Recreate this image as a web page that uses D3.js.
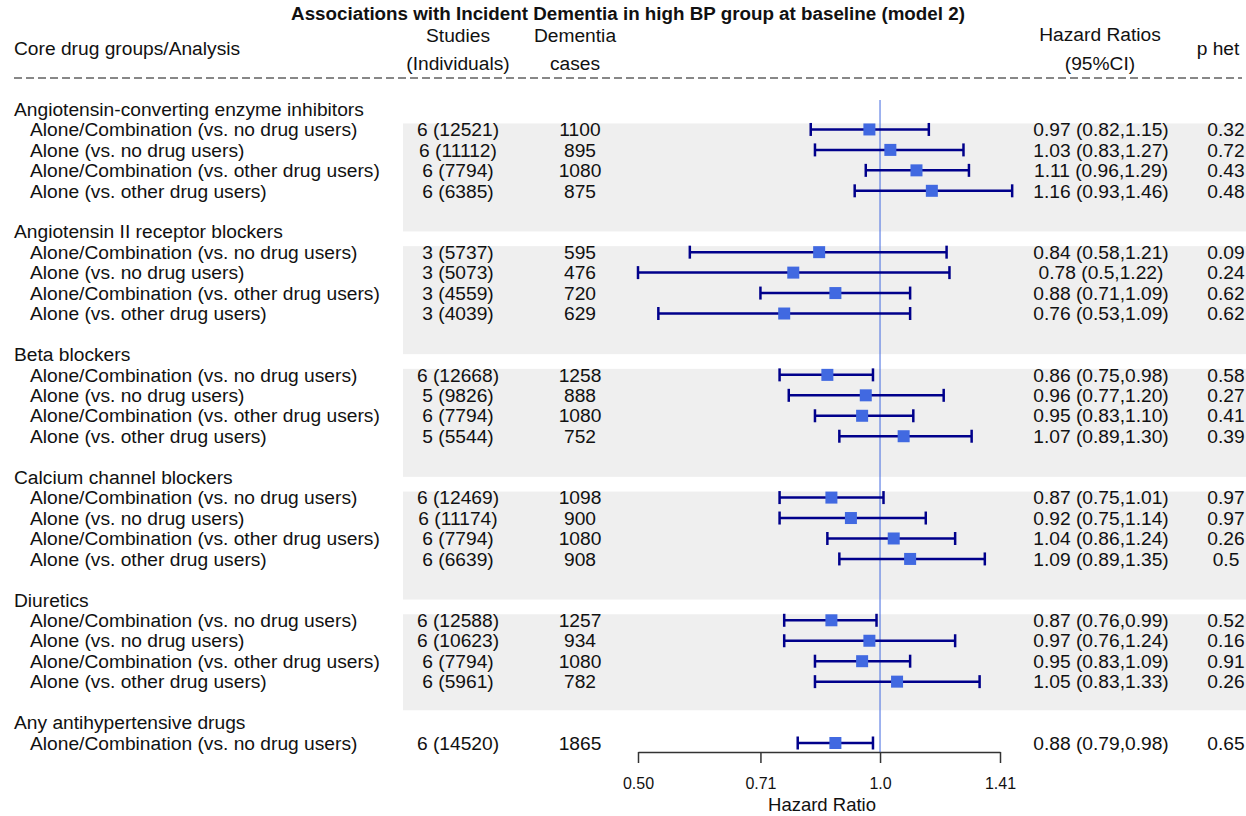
<!DOCTYPE html>
<html>
<head>
<meta charset="utf-8">
<script src="https://cdn.jsdelivr.net/npm/d3@7"></script>
<style>
  body { margin: 0; background: #fff; }
  svg text { font-family: "Liberation Sans", Arial, sans-serif; fill: #111; }
</style>
</head>
<body>
<div id="graph"></div>
<script>
// Drug groups (one header row each)
const groupNames = [
  'Angiotensin-converting enzyme inhibitors',
  'Angiotensin II receptor blockers',
  'Beta blockers',
  'Calcium channel blockers',
  'Diuretics',
  'Any antihypertensive drugs'
]

// Analyses inside each group
const analysisNames = [
  'Alone/Combination (vs. no drug users)',
  'Alone (vs. no drug users)',
  'Alone/Combination (vs. other drug users)',
  'Alone (vs. other drug users)'
]

// One entry per analysis row
const rowGroup = [0,0,0,0, 1,1,1,1, 2,2,2,2, 3,3,3,3, 4,4,4,4, 5]
const rowAnalysis = [0,1,2,3, 0,1,2,3, 0,1,2,3, 0,1,2,3, 0,1,2,3, 0]
const studies = [
  '6 (12521)','6 (11112)','6 (7794)','6 (6385)',
  '3 (5737)','3 (5073)','3 (4559)','3 (4039)',
  '6 (12668)','5 (9826)','6 (7794)','5 (5544)',
  '6 (12469)','6 (11174)','6 (7794)','6 (6639)',
  '6 (12588)','6 (10623)','6 (7794)','6 (5961)',
  '6 (14520)'
]
const cases = [1100,895,1080,875, 595,476,720,629, 1258,888,1080,752, 1098,900,1080,908, 1257,934,1080,782, 1865]
const hr    = [0.97,1.03,1.11,1.16, 0.84,0.78,0.88,0.76, 0.86,0.96,0.95,1.07, 0.87,0.92,1.04,1.09, 0.87,0.97,0.95,1.05, 0.88]
const lower = [0.82,0.83,0.96,0.93, 0.58,0.50,0.71,0.53, 0.75,0.77,0.83,0.89, 0.75,0.75,0.86,0.89, 0.76,0.76,0.83,0.83, 0.79]
const upper = [1.15,1.27,1.29,1.46, 1.21,1.22,1.09,1.09, 0.98,1.20,1.10,1.30, 1.01,1.14,1.24,1.35, 0.99,1.24,1.09,1.33, 0.98]
const hrLabels = [
  '0.97 (0.82,1.15)','1.03 (0.83,1.27)','1.11 (0.96,1.29)','1.16 (0.93,1.46)',
  '0.84 (0.58,1.21)','0.78 (0.5,1.22)','0.88 (0.71,1.09)','0.76 (0.53,1.09)',
  '0.86 (0.75,0.98)','0.96 (0.77,1.20)','0.95 (0.83,1.10)','1.07 (0.89,1.30)',
  '0.87 (0.75,1.01)','0.92 (0.75,1.14)','1.04 (0.86,1.24)','1.09 (0.89,1.35)',
  '0.87 (0.76,0.99)','0.97 (0.76,1.24)','0.95 (0.83,1.09)','1.05 (0.83,1.33)',
  '0.88 (0.79,0.98)'
]
const pHet = ['0.32','0.72','0.43','0.48', '0.09','0.24','0.62','0.62', '0.58','0.27','0.41','0.39', '0.97','0.97','0.26','0.5', '0.52','0.16','0.91','0.26', '0.65']

// Axis ticks
const tickValues = [0.5, 0.71, 1, 1.41]
const tickLabels = ['0.50', '0.71', '1.0', '1.41']

const width = 1246
const height = 816
const fontSize = 19.2

const svg = d3.select('#graph')
  .append('svg')
  .attr('width', width)
  .attr('height', height)

// Each group takes 6 lines: header, 4 analyses, blank
const lineIndex = (i) => rowGroup[i] * 6 + 1 + rowAnalysis[i]
const yScale = d3.scaleLinear().domain([0, 31]).range([109, 743])
const xScale = d3.scaleLog().base(2).domain([0.5, 1.41]).range([638, 1000])

// Gray bands behind each group's analyses
svg.selectAll('rect.band')
  .data(groupNames.slice(0, 5))
  .enter()
  .append('rect')
  .attr('class', 'band')
  .attr('x', 403)
  .attr('width', width - 403)
  .attr('y', (d, g) => yScale(g * 6 + 1) - 6)
  .attr('height', (d, g) => g < 4 ? 108 : 96)
  .attr('fill', '#efefef')

// Title
svg.append('text')
  .attr('x', 628).attr('y', 13).attr('dy', '0.35em')
  .attr('text-anchor', 'middle')
  .style('font-weight', 'bold')
  .style('font-size', '18.8px')
  .text('Associations with Incident Dementia in high BP group at baseline (model 2)')

// Column headers
const headers = [
  { t: 'Core drug groups/Analysis', x: 14, y: 48, a: 'start' },
  { t: 'Studies', x: 458, y: 35, a: 'middle' },
  { t: '(Individuals)', x: 458, y: 63, a: 'middle' },
  { t: 'Dementia', x: 575, y: 35, a: 'middle' },
  { t: 'cases', x: 575, y: 63, a: 'middle' },
  { t: 'Hazard Ratios', x: 1100, y: 34, a: 'middle' },
  { t: '(95%CI)', x: 1100, y: 63, a: 'middle' },
  { t: 'p het', x: 1218, y: 48, a: 'middle' }
]
svg.selectAll('text.header')
  .data(headers)
  .enter()
  .append('text')
  .attr('class', 'header')
  .attr('x', d => d.x).attr('y', d => d.y).attr('dy', '0.35em')
  .attr('text-anchor', d => d.a)
  .style('font-size', fontSize + 'px')
  .text(d => d.t)

// Dashed separator
svg.append('line')
  .attr('x1', 14).attr('x2', 1242)
  .attr('y1', 78).attr('y2', 78)
  .attr('stroke', '#111')
  .attr('stroke-dasharray', '8,4')

// Group headers
svg.selectAll('text.group')
  .data(groupNames)
  .enter()
  .append('text')
  .attr('class', 'group')
  .attr('x', 14).attr('y', (d, g) => yScale(g * 6)).attr('dy', '0.35em')
  .style('font-size', fontSize + 'px')
  .text(d => d)

// Table columns for each analysis row
const rows = d3.range(rowGroup.length)
const columns = [
  { x: 30, a: 'start', f: i => analysisNames[rowAnalysis[i]] },
  { x: 458, a: 'middle', f: i => studies[i] },
  { x: 580, a: 'middle', f: i => cases[i] },
  { x: 1101, a: 'middle', f: i => hrLabels[i] },
  { x: 1226, a: 'middle', f: i => pHet[i] }
]
columns.forEach(col => {
  svg.append('g')
    .selectAll('text')
    .data(rows)
    .enter()
    .append('text')
    .attr('x', col.x).attr('y', i => yScale(lineIndex(i))).attr('dy', '0.35em')
    .attr('text-anchor', col.a)
    .style('font-size', fontSize + 'px')
    .text(col.f)
})

// Reference line at HR = 1
svg.append('line')
  .attr('x1', xScale(1)).attr('x2', xScale(1))
  .attr('y1', 100).attr('y2', 752)
  .attr('stroke', '#4169e1')
  .attr('stroke-width', 1)

// Confidence intervals with end caps
const ci = svg.append('g').attr('stroke', '#00008b').attr('stroke-width', 2.5)
ci.selectAll('line.ci')
  .data(rows)
  .enter()
  .append('line')
  .attr('x1', i => xScale(lower[i])).attr('x2', i => xScale(upper[i]))
  .attr('y1', i => yScale(lineIndex(i))).attr('y2', i => yScale(lineIndex(i)))
ci.selectAll('line.lo')
  .data(rows)
  .enter()
  .append('line')
  .attr('x1', i => xScale(lower[i])).attr('x2', i => xScale(lower[i]))
  .attr('y1', i => yScale(lineIndex(i)) - 6.5).attr('y2', i => yScale(lineIndex(i)) + 6.5)
ci.selectAll('line.hi')
  .data(rows)
  .enter()
  .append('line')
  .attr('x1', i => xScale(upper[i])).attr('x2', i => xScale(upper[i]))
  .attr('y1', i => yScale(lineIndex(i)) - 6.5).attr('y2', i => yScale(lineIndex(i)) + 6.5)

// Point estimates
svg.selectAll('rect.box')
  .data(rows)
  .enter()
  .append('rect')
  .attr('class', 'box')
  .attr('x', i => xScale(hr[i]) - 6)
  .attr('y', i => yScale(lineIndex(i)) - 6)
  .attr('width', 12).attr('height', 12)
  .attr('fill', '#4169e1')

// X axis
const xAxis = d3.axisBottom(xScale)
  .tickValues(tickValues)
  .tickFormat((d, i) => tickLabels[i])
  .tickSize(11)
  .tickSizeOuter(0)
  .tickPadding(15)
const axisG = svg.append('g')
  .attr('transform', 'translate(0,752)')
  .call(xAxis)
axisG.select('.domain').attr('stroke', '#333').attr('stroke-width', 1.5)
axisG.selectAll('.tick line').attr('stroke', '#333').attr('stroke-width', 1.5)
axisG.selectAll('.tick text')
  .style('font-family', '"Liberation Sans", Arial, sans-serif')
  .style('font-size', '16px')
  .attr('fill', '#111')

// Axis label
svg.append('text')
  .attr('x', 822).attr('y', 805).attr('dy', '0.35em')
  .attr('text-anchor', 'middle')
  .style('font-size', '18.5px')
  .text('Hazard Ratio')
</script>
</body>
</html>
